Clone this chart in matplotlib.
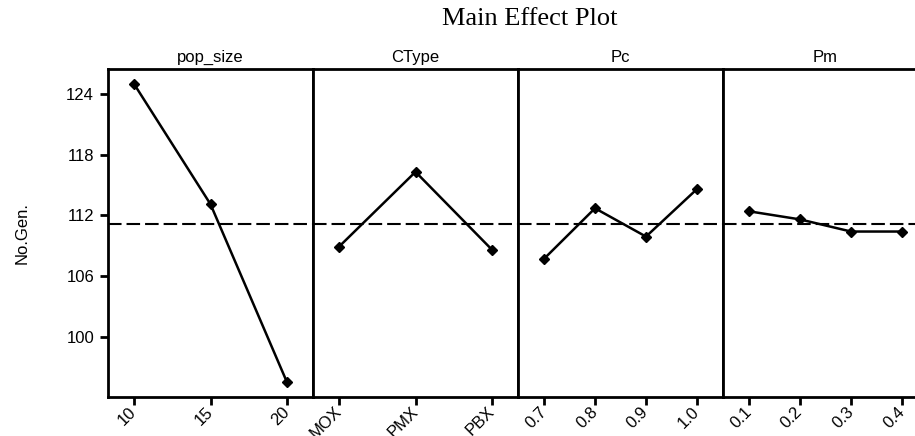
import matplotlib
matplotlib.use("Agg")
import matplotlib.pyplot as plt

# mean No.Gen. per factor level
factors = ["pop_size", "CType", "Pc", "Pm"]
levels = [
    ["10", "15", "20"],
    ["MOX", "PMX", "PBX"],
    ["0.7", "0.8", "0.9", "1.0"],
    ["0.1", "0.2", "0.3", "0.4"],
]
means = [
    [125.0, 113.1, 95.5],
    [108.9, 116.3, 108.6],
    [107.7, 112.7, 109.9, 114.6],
    [112.4, 111.6, 110.4, 110.4],
]
grand_mean = 111.15
yticks = [100, 106, 112, 118, 124]

plt.rcParams["font.family"] = ["Liberation Sans", "DejaVu Sans"]

fig = plt.figure(figsize=(9.15, 4.36), dpi=100)

left = 108 / 915
width = 205 / 915
bottom = 1 - 397 / 436
height = (397 - 69) / 436

for i, name in enumerate(factors):
    ax = fig.add_axes([left + i * width, bottom, width, height])
    x = list(range(len(levels[i])))
    ax.axhline(grand_mean, color="black", lw=1.5, ls=(0, (6.5, 2.4)), zorder=1)
    ax.plot(x, means[i], color="black", lw=1.8, marker="D", ms=5.5, zorder=3)

    pad = 0.17 * (len(x) - 1)
    ax.set_xlim(-pad, len(x) - 1 + pad)
    ax.set_ylim(94.04, 126.47)
    ax.set_xticks(x)
    ax.set_xticklabels(levels[i], rotation=45, ha="right", va="center",
                       rotation_mode="anchor", fontsize=12)
    ax.tick_params(axis="x", direction="out", length=6, width=2, pad=3)

    if i == 0:
        ax.set_yticks(yticks)
        ax.set_yticklabels([str(t) for t in yticks], fontsize=12)
        ax.tick_params(axis="y", direction="out", length=6, width=2, pad=4)
        ax.set_ylabel("No.Gen.", fontsize=12, labelpad=26)
    else:
        ax.set_yticks([])

    for s in ax.spines.values():
        s.set_linewidth(2)
    ax.set_title(name, fontsize=12, pad=5)

fig.text(530 / 915, 1 - 19 / 436, "Main Effect Plot", ha="center", va="center",
         fontsize=19, family="Liberation Serif")

fig.savefig("out.png", dpi=100)
